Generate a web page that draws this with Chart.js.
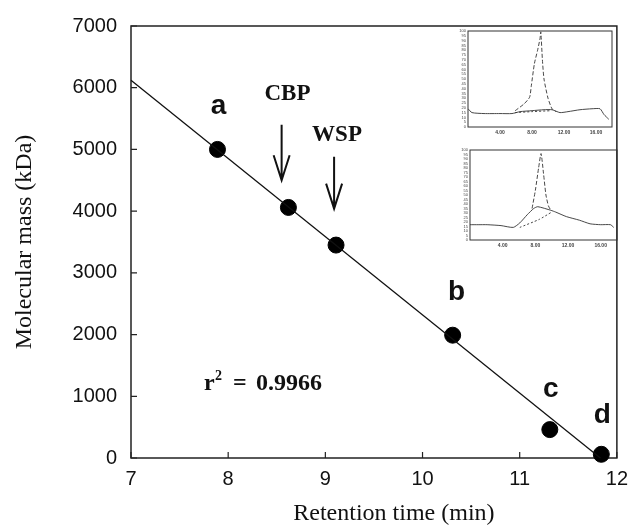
<!DOCTYPE html>
<html>
<head>
<meta charset="utf-8">
<script src="https://cdn.jsdelivr.net/npm/chart.js@4"></script>
<style>
  body { margin: 0; background: #fff; }
  #wrap { position: relative; width: 637px; height: 532px; }
  canvas { position: absolute; }
</style>
</head>
<body>
<div id="wrap">
  <canvas id="main" width="637" height="532" style="left:0;top:0"></canvas>
  <canvas id="inset1" width="168" height="118" style="left:448px;top:24px"></canvas>
  <canvas id="inset2" width="172" height="118" style="left:450px;top:143px"></canvas>
</div>
<script>
// standards a-d plus the two samples (CBP, WSP)
const retentionTime = [7.89, 8.62, 9.11, 10.31, 11.31, 11.84];
const molecularMass = [5000, 4060, 3450, 1990, 460, 60];

// regression line end points
const fitTime = [7, 11.83];
const fitMass = [6120, 0];

const xTicks = [7, 8, 9, 10, 11, 12];
const yTicks = [0, 1000, 2000, 3000, 4000, 5000, 6000, 7000];

// letters over the standards
const standardNames = ['a', 'b', 'c', 'd'];
const standardLabelTime = [7.9, 10.35, 11.32, 11.85];
const standardLabelMass = [5700, 2680, 1120, 700];

// sample names and arrows
const sampleNames = ['CBP', 'WSP'];
const sampleArrowTime = [8.55, 9.09];
const sampleArrowTop = [5400, 4880];
const sampleArrowTip = [4500, 4040];
const sampleLabelTime = [8.61, 9.12];
const sampleLabelMass = [5900, 5230];

// small chromatograms (inset), time in min, signal in % of full scale
const inset1BaseTime = [0, 0.5, 2, 4, 5.5, 6.5, 8, 9.5, 10.5, 11.5, 12.5, 14, 15.5, 16.5, 17, 17.6];
const inset1BaseSignal = [19, 15, 14, 14, 14, 16, 17, 18, 18, 15, 16, 18, 19, 19, 13, 8];
const inset1PeakTime = [5.9, 7.0, 7.7, 7.9, 8.3, 8.7, 9.0, 9.1, 9.3, 9.5, 10.0, 10.5, 11];
const inset1PeakSignal = [17, 24, 31, 42, 66, 80, 92, 99, 70, 50, 30, 19, 16];
const inset1LowTime = [5.9, 8, 10.4];
const inset1LowSignal = [15, 16, 17];

const inset2BaseTime = [0, 1, 2.1, 3.8, 5.3, 6.1, 7.0, 7.8, 8.3, 9.9, 10.5, 11.8, 13.4, 14.7, 16, 17.2, 17.6];
const inset2BaseSignal = [17, 17, 17, 16, 14, 19, 28, 35, 37, 33, 31, 26, 22, 18, 17, 17, 14];
const inset2PeakTime = [7.6, 8.0, 8.4, 8.7, 9.0, 9.3, 9.6, 9.9];
const inset2PeakSignal = [35, 55, 80, 96, 74, 50, 38, 33];
const inset2LowTime = [6.1, 8.5, 10];
const inset2LowSignal = [14, 23, 31];
const insetTicks = [4, 8, 12, 16];

const toXY = (xs, ys) => xs.map((v, i) => ({ x: v, y: ys[i] }));

const ink = '#111';
const sans = "'Liberation Sans', Arial, sans-serif";
const serif = "'Liberation Serif', 'Times New Roman', serif";

// box round the plot and inward tick marks
const framePlugin = {
  id: 'frame',
  beforeDatasetsDraw(chart) {
    const { ctx, chartArea: a, scales: { x, y } } = chart;
    ctx.save();
    ctx.strokeStyle = '#222';
    ctx.lineWidth = 1.5;
    ctx.strokeRect(a.left, a.top, a.right - a.left, a.bottom - a.top);
    ctx.lineWidth = 1.2;
    ctx.beginPath();
    xTicks.forEach(v => {
      const px = x.getPixelForValue(v);
      ctx.moveTo(px, a.bottom);
      ctx.lineTo(px, a.bottom - 6);
    });
    yTicks.forEach(v => {
      const py = y.getPixelForValue(v);
      ctx.moveTo(a.left, py);
      ctx.lineTo(a.left + 6, py);
    });
    ctx.stroke();
    ctx.restore();
  }
};

const notesPlugin = {
  id: 'notes',
  afterDatasetsDraw(chart) {
    const { ctx, chartArea: a, scales: { x, y } } = chart;
    ctx.save();
    ctx.fillStyle = ink;
    ctx.textAlign = 'center';
    ctx.textBaseline = 'middle';

    ctx.font = 'bold 28px ' + sans;
    standardNames.forEach((t, i) => {
      ctx.fillText(t, x.getPixelForValue(standardLabelTime[i]), y.getPixelForValue(standardLabelMass[i]));
    });

    ctx.font = 'bold 23px ' + serif;
    sampleNames.forEach((t, i) => {
      ctx.fillText(t, x.getPixelForValue(sampleLabelTime[i]), y.getPixelForValue(sampleLabelMass[i]));
    });

    // arrows
    ctx.strokeStyle = ink;
    ctx.lineWidth = 2;
    sampleArrowTime.forEach((t, i) => {
      const px = x.getPixelForValue(t);
      const top = y.getPixelForValue(sampleArrowTop[i]);
      const tip = y.getPixelForValue(sampleArrowTip[i]);
      ctx.beginPath();
      ctx.moveTo(px, top);
      ctx.lineTo(px, tip);
      ctx.moveTo(px - 8, tip - 25);
      ctx.lineTo(px, tip);
      ctx.lineTo(px + 8, tip - 25);
      ctx.stroke();
    });

    // r^2 note
    const rx = x.getPixelForValue(7.75);
    const ry = y.getPixelForValue(1100);
    ctx.textAlign = 'left';
    ctx.textBaseline = 'alphabetic';
    ctx.font = 'bold 24px ' + serif;
    ctx.fillText('r', rx, ry);
    ctx.font = 'bold 14px ' + serif;
    ctx.fillText('2', rx + 11, ry - 10);
    ctx.font = 'bold 24px ' + serif;
    ctx.fillText('=', rx + 29, ry);
    ctx.fillText('0.9966', rx + 52, ry);

    // x axis title
    ctx.textAlign = 'center';
    ctx.textBaseline = 'middle';
    ctx.font = '24px ' + serif;
    ctx.fillText('Retention time (min)', (a.left + a.right) / 2 + 20, chart.height - 18);
    ctx.restore();
  }
};

new Chart(document.getElementById('main'), {
  type: 'scatter',
  data: {
    datasets: [
      {
        label: 'fit',
        data: toXY(fitTime, fitMass),
        showLine: true,
        borderColor: ink,
        borderWidth: 1.3,
        pointRadius: 0,
        clip: false
      },
      {
        label: 'samples',
        data: toXY(retentionTime, molecularMass),
        pointRadius: 8,
        pointHoverRadius: 8,
        backgroundColor: '#000',
        borderColor: '#000',
        clip: false
      }
    ]
  },
  options: {
    responsive: false,
    animation: false,
    devicePixelRatio: 1,
    layout: { padding: { left: 0, top: 16, right: 10, bottom: 0 } },
    plugins: { legend: { display: false }, tooltip: { enabled: false } },
    scales: {
      x: {
        type: 'linear',
        min: 7,
        max: 12,
        afterBuildTicks: s => { s.ticks = xTicks.map(v => ({ value: v })); },
        afterFit: s => { s.height = 74; },
        grid: { display: false, drawTicks: false },
        border: { display: false },
        ticks: { color: ink, padding: 9, font: { family: sans, size: 20 }, callback: v => String(v) }
      },
      y: {
        min: 0,
        max: 7000,
        afterBuildTicks: s => { s.ticks = yTicks.map(v => ({ value: v })); },
        afterFit: s => { s.width = 131; },
        grid: { display: false, drawTicks: false },
        border: { display: false },
        ticks: { color: ink, padding: 14, font: { family: sans, size: 20 }, callback: v => String(v) },
        title: {
          display: true,
          text: 'Molecular mass (kDa)',
          color: ink,
          font: { family: serif, size: 24 },
          padding: { top: 10, bottom: 0 }
        }
      }
    }
  },
  plugins: [framePlugin, notesPlugin]
});

// inset chromatograms
const insetFrame = {
  id: 'insetFrame',
  beforeDatasetsDraw(chart) {
    const { ctx, chartArea: a } = chart;
    ctx.save();
    ctx.strokeStyle = '#333';
    ctx.lineWidth = 1;
    ctx.strokeRect(a.left, a.top, a.right - a.left, a.bottom - a.top);
    ctx.restore();
  }
};

function insetChart(id, base, peak, low, axisHeight, rightPad) {
  const line = (pts, dash) => ({
    data: pts,
    showLine: true,
    borderColor: '#333',
    borderWidth: 0.9,
    borderDash: dash,
    pointRadius: 0,
    tension: 0.2
  });
  return new Chart(document.getElementById(id), {
    type: 'scatter',
    data: { datasets: [line(base, []), line(peak, [4, 2]), line(low, [2, 2])] },
    options: {
      responsive: false,
      animation: false,
      devicePixelRatio: 1,
      layout: { padding: { left: 0, top: 7, right: rightPad, bottom: 0 } },
      plugins: { legend: { display: false }, tooltip: { enabled: false } },
      scales: {
        x: {
          type: 'linear',
          min: 0,
          max: 18,
          afterBuildTicks: s => { s.ticks = insetTicks.map(v => ({ value: v })); },
          afterFit: s => { s.height = axisHeight; },
          grid: { display: false, drawTicks: false },
          border: { display: false },
          ticks: { color: '#444', padding: 3, font: { family: sans, size: 5, weight: 'bold' }, callback: v => v.toFixed(2) }
        },
        y: {
          min: 0,
          max: 100,
          afterFit: s => { s.width = 20; },
          grid: { display: false, drawTicks: false },
          border: { display: false },
          ticks: { color: '#444', padding: 2, stepSize: 5, autoSkip: false, font: { family: sans, size: 4 } }
        }
      }
    },
    plugins: [insetFrame]
  });
}

insetChart('inset1',
  toXY(inset1BaseTime, inset1BaseSignal),
  toXY(inset1PeakTime, inset1PeakSignal),
  toXY(inset1LowTime, inset1LowSignal), 15, 4);
insetChart('inset2',
  toXY(inset2BaseTime, inset2BaseSignal),
  toXY(inset2PeakTime, inset2PeakSignal),
  toXY(inset2LowTime, inset2LowSignal), 21, 5);
</script>
</body>
</html>
